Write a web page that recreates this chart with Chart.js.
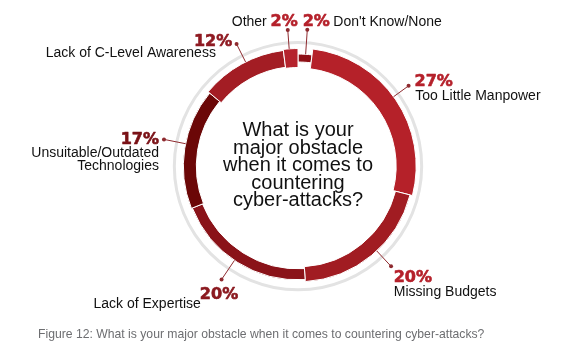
<!DOCTYPE html>
<html>
<head>
<meta charset="utf-8">
<script src="https://cdn.jsdelivr.net/npm/chart.js@4/dist/chart.umd.min.js"></script>
<style>
  html, body { margin: 0; padding: 0; background: #fff; }
  #wrap { width: 576px; height: 360px; }
</style>
</head>
<body>
<div id="wrap"><canvas id="myChart"></canvas></div>
<script>
// clockwise from 12 o'clock
const categories = [
    ["Don't Know/None"],
    ['Too Little Manpower'],
    ['Missing Budgets'],
    ['Lack of Expertise'],
    ['Unsuitable/Outdated', 'Technologies'],
    ['Lack of C-Level Awareness'],
    ['Other']
];
const shares = [2, 27, 20, 20, 17, 12, 2];
const pctLabels = shares.map(v => v + '%');
const centerLines = ['What is your', 'major obstacle', 'when it comes to', 'countering', 'cyber-attacks?'];
const caption = 'Figure 12: What is your major obstacle when it comes to countering cyber-attacks?';

// styling
const ringColors = ['#8e1016', '#b52129', '#a11c22', '#8a1319', '#6b0707', '#a31d24', '#b5232d'];
const ringThickness = [8, 20, 15, 11, 13, 17, 19];
const pctColors = ['#b5212b', '#b5212b', '#b5212b', '#8b1a20', '#7a1116', '#8f1a22', '#b5212b'];
// da = nudge of the dot angle (deg), pct / name = [dx, dy, align] from the dot
const labelLayout = [
    { da: 0.3,  pct: [-4.6, -3.5, 'left'],  name: [26, -3.5, 'left'] },
    { da: -1.8, pct: [6, 0, 'left'],        name: [6.7, 14, 'left'] },
    { da: -3.3, pct: [2.7, 15.7, 'left'],   name: [2.7, 30, 'left'] },
    { da: 1.6,  pct: [-21.7, 19.7, 'left'], name: [-20.7, 28.7, 'right'] },
    { da: 2.3,  pct: [-5, 4.3, 'right'],    name: [-5, 18, 'right'] },
    { da: 2.1,  pct: [-4.4, 2, 'right'],    name: [-20.7, 13.3, 'right'] },
    { da: -0.7, pct: [10, -3.5, 'right'],   name: [-21, -3.5, 'right'] }
];

const lineColor = '#8e2a2f';

// give every slice its own ring thickness around the ring's middle
const ringShape = {
    id: 'ringShape',
    afterDatasetsUpdate(chart) {
        const meta = chart.getDatasetMeta(2);
        meta.data.forEach((arc, i) => {
            const mid = (arc.innerRadius + arc.outerRadius) / 2;
            arc.innerRadius = mid - ringThickness[i] / 2;
            arc.outerRadius = mid + ringThickness[i] / 2;
        });
    }
};

const obstacleLabels = {
    id: 'obstacleLabels',
    afterDraw(chart) {
        const { ctx } = chart;
        const arcs = chart.getDatasetMeta(2).data;
        const outer = chart.getDatasetMeta(0).data[0];
        const cx = outer.x, cy = outer.y;
        const dotR = outer.outerRadius + 11.5;

        ctx.save();
        arcs.forEach((arc, i) => {
            const lay = labelLayout[i];
            const a = (arc.startAngle + arc.endAngle) / 2 + lay.da * Math.PI / 180;
            const x0 = cx + arc.outerRadius * Math.cos(a);
            const y0 = cy + arc.outerRadius * Math.sin(a);
            const x1 = cx + dotR * Math.cos(a);
            const y1 = cy + dotR * Math.sin(a);

            ctx.strokeStyle = lineColor;
            ctx.lineWidth = 1;
            ctx.beginPath();
            ctx.moveTo(x0, y0);
            ctx.lineTo(x1, y1);
            ctx.stroke();
            ctx.fillStyle = lineColor;
            ctx.beginPath();
            ctx.arc(x1, y1, 2, 0, Math.PI * 2);
            ctx.fill();

            // heavy percentage figure
            ctx.textBaseline = 'alphabetic';
            ctx.font = 'bold 16px "DejaVu Sans"';
            ctx.fillStyle = pctColors[i];
            ctx.strokeStyle = pctColors[i];
            ctx.lineWidth = 0.6;
            ctx.lineJoin = 'round';
            ctx.textAlign = lay.pct[2];
            ctx.fillText(pctLabels[i], x1 + lay.pct[0], y1 + lay.pct[1]);
            ctx.strokeText(pctLabels[i], x1 + lay.pct[0], y1 + lay.pct[1]);

            ctx.font = '14px "Liberation Sans"';
            ctx.fillStyle = '#111';
            ctx.textAlign = lay.name[2];
            categories[i].forEach((line, k) => {
                ctx.fillText(line, x1 + lay.name[0], y1 + lay.name[1] + k * 13);
            });
        });

        ctx.font = '20px "Liberation Sans"';
        ctx.fillStyle = '#111';
        ctx.textAlign = 'center';
        centerLines.forEach((line, k) => {
            ctx.fillText(line, cx, cy - 30 + k * 17.5);
        });
        ctx.restore();
    }
};

const ctx = document.getElementById('myChart');

const myChart = new Chart(ctx, { // eslint-disable-line
    type: 'doughnut',
    data: {
        labels: categories.map(c => c.join(' ')),
        datasets: [
            {
                // thin grey outer ring
                data: [1],
                backgroundColor: '#e3e3e3',
                borderWidth: 0,
                hoverBorderWidth: 0,
                weight: 3
            },
            {
                // empty gap between grey ring and bars
                data: [1],
                backgroundColor: 'rgba(0,0,0,0)',
                borderWidth: 0,
                weight: 4
            },
            {
                data: shares,
                backgroundColor: ringColors,
                borderColor: '#fff',
                borderWidth: 1,
                weight: 20
            }
        ]
    },
    options: {
        responsive: true,
        maintainAspectRatio: false,
        animation: false,
        events: [],
        cutout: '78.4%',
        layout: {
            padding: { left: 38, right: 18, top: 41, bottom: 18 }
        },
        plugins: {
            legend: { display: false },
            tooltip: { enabled: false },
            title: {
                display: true,
                text: caption,
                position: 'bottom',
                align: 'start',
                color: '#6d6e71',
                font: { family: 'Liberation Sans', size: 12.2, weight: 'normal', lineHeight: 1.2 },
                padding: { top: 36, bottom: 0 }
            }
        }
    },
    plugins: [ringShape, obstacleLabels]
});
</script>
</body>
</html>
